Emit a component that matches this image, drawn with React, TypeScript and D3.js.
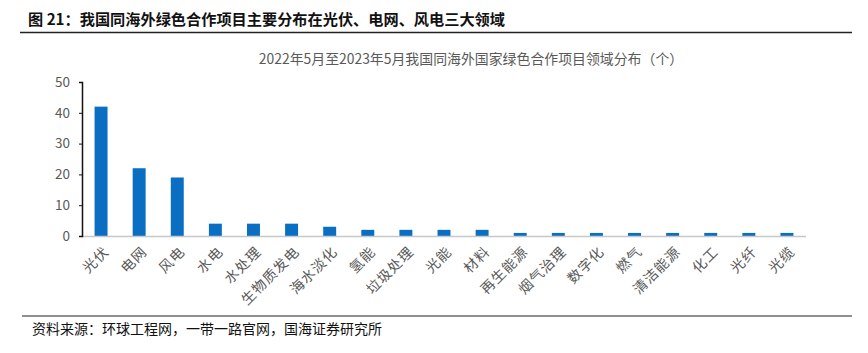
import React, { useEffect, useRef } from 'react';
import * as d3 from 'd3';

const categories = [
  '光伏', '电网', '风电', '水电', '水处理', '生物质发电', '海水淡化', '氢能', '垃圾处理', '光能',
  '材料', '再生能源', '烟气治理', '数字化', '燃气', '清洁能源', '化工', '光纤', '光缆',
];
const counts = [42, 22, 19, 4, 4, 4, 3, 2, 2, 2, 2, 1, 1, 1, 1, 1, 1, 1, 1];
const yTicks = [0, 10, 20, 30, 40, 50];

const title = '图 21：我国同海外绿色合作项目主要分布在光伏、电网、风电三大领域';
const subtitle = '2022年5月至2023年5月我国同海外国家绿色合作项目领域分布（个）';
const source = '资料来源：环球工程网，一带一路官网，国海证券研究所';

const W = 868;
const H = 353;
const FONT = '"Noto Sans CJK SC", "Noto Sans", sans-serif';

const App: React.FC = () => {
  const svgRef = useRef<SVGSVGElement>(null);

  useEffect(() => {
    if (!svgRef.current) return;
    const svg = d3.select(svgRef.current);
    svg.selectAll('*').remove();

    const left = 82;
    const right = 806;
    const top = 82;
    const bottom = 236;

    // header
    svg.append('text')
      .attr('x', 28)
      .attr('y', 25)
      .attr('font-family', FONT)
      .attr('font-size', 15.2)
      .attr('font-weight', 'bold')
      .attr('fill', '#111')
      .text(title);
    svg.append('line')
      .attr('x1', 20).attr('x2', 852)
      .attr('y1', 32.5).attr('y2', 32.5)
      .attr('stroke', '#222').attr('stroke-width', 1.5);

    svg.append('text')
      .attr('x', 471)
      .attr('y', 64)
      .attr('text-anchor', 'middle')
      .attr('font-family', FONT)
      .attr('font-size', 13.9)
      .attr('fill', '#595959')
      .text(subtitle);

    const x = d3.scaleBand()
      .domain(categories)
      .range([left, right])
      .paddingInner(0.66)
      .paddingOuter(0.33);

    const y = d3.scaleLinear().domain([0, 50]).range([bottom, top]);

    // bars
    svg.append('g')
      .selectAll('rect')
      .data(categories)
      .enter()
      .append('rect')
      .attr('x', (d) => x(d) || 0)
      .attr('y', (d, i) => y(counts[i]))
      .attr('width', x.bandwidth())
      .attr('height', (d, i) => bottom - y(counts[i]))
      .attr('fill', '#0a6fc2');

    // x axis line
    svg.append('line')
      .attr('x1', left).attr('x2', right)
      .attr('y1', bottom + 0.5).attr('y2', bottom + 0.5)
      .attr('stroke', '#c8c8c8').attr('stroke-width', 1.5);

    // y axis
    const yAxis = svg.append('g')
      .attr('transform', `translate(${left},0)`)
      .call(d3.axisLeft(y).tickValues(yTicks).tickSize(3).tickPadding(9));
    yAxis.select('.domain').attr('stroke', '#111').attr('stroke-width', 1.5);
    yAxis.selectAll('.tick line').attr('stroke', '#111');
    yAxis.selectAll('.tick text')
      .attr('font-family', FONT)
      .attr('font-size', 13.5)
      .attr('fill', '#595959');

    // category labels
    svg.append('g')
      .selectAll('text')
      .data(categories)
      .enter()
      .append('text')
      .attr('transform', (d) => `translate(${(x(d) || 0) + x.bandwidth() / 2 + 6},${bottom + 14}) rotate(-45)`)
      .attr('text-anchor', 'end')
      .attr('dominant-baseline', 'middle')
      .attr('font-family', FONT)
      .attr('font-size', 14)
      .attr('letter-spacing', 1)
      .attr('fill', '#595959')
      .text((d) => d);

    // footer
    svg.append('line')
      .attr('x1', 22).attr('x2', 852)
      .attr('y1', 316).attr('y2', 316)
      .attr('stroke', '#222').attr('stroke-width', 1.2);
    svg.append('text')
      .attr('x', 32)
      .attr('y', 334)
      .attr('font-family', FONT)
      .attr('font-size', 14)
      .attr('fill', '#111')
      .text(source);
  }, []);

  return (
    <svg
      ref={svgRef}
      width={W}
      height={H}
      style={{ position: 'absolute', left: 0, top: 0, background: '#fff' }}
    />
  );
};

export default App;
